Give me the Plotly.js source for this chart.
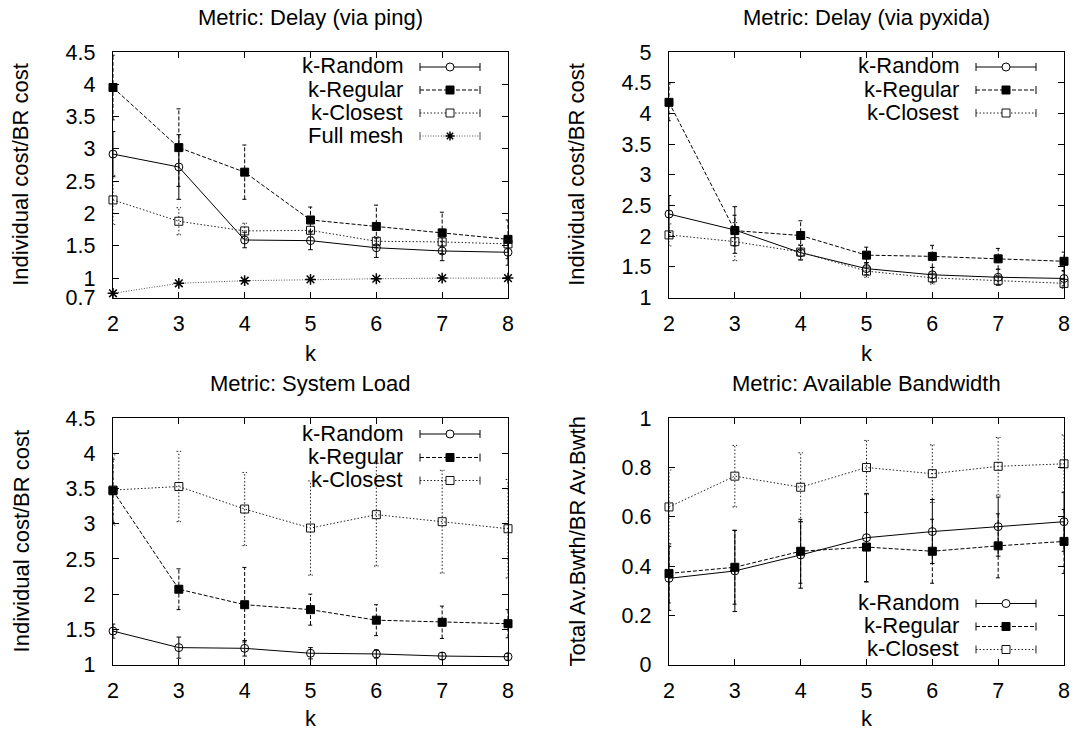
<!DOCTYPE html>
<html>
<head>
<meta charset="utf-8">
<script src="https://cdn.plot.ly/plotly-3.0.1.min.js"></script>
<style>html,body{margin:0;padding:0;background:#fff;}#chart{width:1074px;height:731px;}</style>
</head>
<body>
<div id="chart"></div>
<script>
// ---------- data ----------
const K = [2, 3, 4, 5, 6, 7, 8];
const seriesNames = ['k-Random', 'k-Regular', 'k-Closest', 'Full mesh'];
const panelTitles = ['Metric: Delay (via ping)', 'Metric: Delay (via pyxida)', 'Metric: System Load', 'Metric: Available Bandwidth'];
const yTitles = ['Individual cost/BR cost', 'Individual cost/BR cost', 'Individual cost/BR cost', 'Total Av.Bwth/BR Av.Bwth'];

// Delay via ping
const pingRandom     = [2.92, 2.72, 1.59, 1.58, 1.47, 1.42, 1.40];
const pingRandomErr  = [0.35, 0.50, 0.12, 0.14, 0.15, 0.15, 0.20];
const pingRegular    = [3.95, 3.02, 2.64, 1.90, 1.80, 1.70, 1.60];
const pingRegularErr = [0.50, 0.60, 0.42, 0.20, 0.33, 0.32, 0.30];
const pingClosest    = [2.21, 1.88, 1.73, 1.74, 1.57, 1.56, 1.53];
const pingClosestErr = [0.38, 0.21, 0.12, 0.10, 0.07, 0.07, 0.07];
const pingFull       = [0.765, 0.92, 0.96, 0.98, 0.99, 1.00, 1.00];
const pingFullErr    = [0.01, 0.01, 0.01, 0.01, 0.01, 0.01, 0.01];

// Delay via pyxida
const pyxRandom     = [2.36, 2.10, 1.73, 1.47, 1.37, 1.33, 1.31];
const pyxRandomErr  = [0.30, 0.38, 0.12, 0.10, 0.12, 0.13, 0.12];
const pyxRegular    = [4.18, 2.09, 2.01, 1.69, 1.67, 1.63, 1.59];
const pyxRegularErr = [0.30, 0.25, 0.24, 0.13, 0.18, 0.17, 0.15];
const pyxClosest    = [2.02, 1.91, 1.74, 1.43, 1.32, 1.28, 1.23];
const pyxClosestErr = [0.18, 0.31, 0.12, 0.10, 0.10, 0.08, 0.08];

// System load
const loadRandom     = [1.475, 1.24, 1.23, 1.16, 1.15, 1.12, 1.11];
const loadRandomErr  = [0.10, 0.15, 0.11, 0.08, 0.06, 0.05, 0.05];
const loadRegular    = [3.47, 2.07, 1.85, 1.78, 1.63, 1.60, 1.58];
const loadRegularErr = [0.45, 0.29, 0.53, 0.22, 0.22, 0.23, 0.20];
const loadClosest    = [3.48, 3.53, 3.21, 2.94, 3.13, 3.03, 2.93];
const loadClosestErr = [0.50, 0.50, 0.52, 0.67, 0.73, 0.73, 0.70];

// Available bandwidth
const bwRandom     = [0.35, 0.38, 0.445, 0.515, 0.54, 0.56, 0.58];
const bwRandomErr  = [0.13, 0.165, 0.135, 0.18, 0.13, 0.12, 0.12];
const bwRegular    = [0.37, 0.395, 0.46, 0.477, 0.46, 0.482, 0.50];
const bwRegularErr = [0.12, 0.15, 0.13, 0.14, 0.13, 0.13, 0.13];
const bwClosest    = [0.64, 0.765, 0.72, 0.80, 0.775, 0.805, 0.815];
const bwClosestErr = [0.15, 0.125, 0.14, 0.11, 0.117, 0.117, 0.117];

const yTicks1 = [0.7, 1, 1.5, 2, 2.5, 3, 3.5, 4, 4.5];
const yTicks2 = [1, 1.5, 2, 2.5, 3, 3.5, 4, 4.5, 5];
const yTicks3 = [1, 1.5, 2, 2.5, 3, 3.5, 4, 4.5];
const yTicks4 = [0, 0.2, 0.4, 0.6, 0.8, 1];

// ---------- styles ----------
const FONT = '"Liberation Sans", Arial, Helvetica, sans-serif';
const FS = 22;      // titles, legend, axis titles
const TFS = 21.5;   // tick labels
const W = 1074, H = 731;
const styles = [
  {dash: 'solid',      color: '#000', mcolor: '#000', symbol: 'circle-open', size: 8, mlw: 1},
  {dash: '4px,2px',    color: '#000', mcolor: '#000', symbol: 'square',      size: 8, mlw: 1},
  {dash: '1.5px,2px',  color: '#222', mcolor: '#111', symbol: 'square-open', size: 8, mlw: 1},
  {dash: '1px,1.6px',  color: '#555', mcolor: '#000', symbol: 'asterisk-open', size: 9, mlw: 1.5}
];

const panels = [
  {x: [113, 508], y: [52, 297.5],  range: [0.7, 4.5], ticks: yTicks1,
   series: [[pingRandom, pingRandomErr], [pingRegular, pingRegularErr], [pingClosest, pingClosestErr], [pingFull, pingFullErr]],
   legendRows: [67, 90, 113, 136]},
  {x: [669, 1064], y: [52, 297.5], range: [1, 5], ticks: yTicks2,
   series: [[pyxRandom, pyxRandomErr], [pyxRegular, pyxRegularErr], [pyxClosest, pyxClosestErr]],
   legendRows: [67, 90, 113]},
  {x: [113, 508], y: [418.3, 664.5], range: [1, 4.5], ticks: yTicks3,
   series: [[loadRandom, loadRandomErr], [loadRegular, loadRegularErr], [loadClosest, loadClosestErr]],
   legendRows: [434, 457.5, 480.5]},
  {x: [669, 1064], y: [418.3, 664.5], range: [0, 1], ticks: yTicks4,
   series: [[bwRandom, bwRandomErr], [bwRegular, bwRegularErr], [bwClosest, bwClosestErr]],
   legendRows: [603.5, 626.5, 649.5]}
];

function pxX(x) { return x / W; }
function pxY(y) { return 1 - y / H; }

const traces = [];
const shapes = [];
const annotations = [];
const layout = {
  width: W, height: H,
  margin: {l: 0, r: 0, t: 0, b: 0},
  paper_bgcolor: '#fff', plot_bgcolor: '#fff',
  showlegend: false,
  font: {family: FONT, size: FS, color: '#000'}
};

const CAP = 0.035; // half-width of error bar caps in k units

panels.forEach((p, pi) => {
  const n = pi + 1;
  const xa = 'x' + (n === 1 ? '' : n), ya = 'y' + (n === 1 ? '' : n);
  const xk = 'xaxis' + (n === 1 ? '' : n), yk = 'yaxis' + (n === 1 ? '' : n);
  layout[xk] = {
    domain: [pxX(p.x[0]), pxX(p.x[1])], anchor: ya,
    range: [2, 8], tickvals: K, ticktext: K.map(String),
    ticks: 'inside', ticklen: 6, tickwidth: 1, tickcolor: '#000',
    mirror: 'allticks', showline: true, linecolor: '#000', linewidth: 1.3,
    showgrid: false, zeroline: false, ticklabelstandoff: 6,
    tickfont: {family: FONT, size: TFS, color: '#000'}, fixedrange: true
  };
  layout[yk] = {
    domain: [pxY(p.y[1]), pxY(p.y[0])], anchor: xa,
    range: p.range, tickvals: p.ticks, ticktext: p.ticks.map(String),
    ticks: 'inside', ticklen: 6, tickwidth: 1, tickcolor: '#000',
    mirror: 'allticks', showline: true, linecolor: '#000', linewidth: 1.3,
    showgrid: false, zeroline: false, ticklabelstandoff: 12,
    tickfont: {family: FONT, size: TFS, color: '#000'}, fixedrange: true
  };

  p.series.forEach((s, si) => {
    const st = styles[si];
    const vals = s[0], errs = s[1];
    const ex = [], ey = [];
    K.forEach((k, i) => {
      const lo = vals[i] - errs[i], hi = vals[i] + errs[i];
      ex.push(k - CAP, k + CAP, null, k, k, null, k - CAP, k + CAP, null);
      ey.push(lo, lo, null, lo, hi, null, hi, hi, null);
    });
    traces.push({
      x: ex, y: ey, xaxis: xa, yaxis: ya, mode: 'lines', hoverinfo: 'skip',
      line: {color: st.color, width: 1, dash: st.dash}, cliponaxis: false, showlegend: false
    });
    traces.push({
      x: K, y: vals, xaxis: xa, yaxis: ya, mode: 'lines+markers', name: seriesNames[si],
      line: {color: st.color, width: 1, dash: st.dash},
      marker: {symbol: st.symbol, size: st.size, color: st.mcolor, line: {color: st.mcolor, width: st.mlw}},
      cliponaxis: false, showlegend: false
    });

    // custom gnuplot-style legend entry: text right-aligned, sample on its right
    const ry = p.legendRows[si];
    const right = p.x[1];
    annotations.push({
      xref: 'paper', yref: 'paper', x: pxX(right - 103), y: pxY(ry - 1),
      xanchor: 'right', yanchor: 'middle', showarrow: false, text: seriesNames[si],
      font: {family: FONT, size: FS, color: '#000'}
    });
    const lx0 = right - 88, lx1 = right - 28, mx = right - 58;
    shapes.push({type: 'line', xref: 'paper', yref: 'paper', x0: pxX(lx0), x1: pxX(lx1), y0: pxY(ry), y1: pxY(ry),
      line: {color: st.color, width: 1, dash: st.dash}});
    [lx0, lx1].forEach(cx => shapes.push({type: 'line', xref: 'paper', yref: 'paper',
      x0: pxX(cx), x1: pxX(cx), y0: pxY(ry - 4), y1: pxY(ry + 4), line: {color: st.color, width: 1}}));
    const r = 4;
    if (si === 0) {
      shapes.push({type: 'circle', xref: 'paper', yref: 'paper', x0: pxX(mx - r), x1: pxX(mx + r),
        y0: pxY(ry + r), y1: pxY(ry - r), line: {color: '#000', width: 1}, fillcolor: '#fff'});
    } else if (si === 1) {
      shapes.push({type: 'rect', xref: 'paper', yref: 'paper', x0: pxX(mx - r), x1: pxX(mx + r),
        y0: pxY(ry + r), y1: pxY(ry - r), line: {color: '#000', width: 1}, fillcolor: '#000'});
    } else if (si === 2) {
      shapes.push({type: 'rect', xref: 'paper', yref: 'paper', x0: pxX(mx - r), x1: pxX(mx + r),
        y0: pxY(ry + r), y1: pxY(ry - r), line: {color: '#111', width: 1}, fillcolor: '#fff'});
    } else {
      const a = 4.5, b = 3.2;
      const path = 'M' + pxX(mx - a) + ',' + pxY(ry) + 'L' + pxX(mx + a) + ',' + pxY(ry) +
        'M' + pxX(mx) + ',' + pxY(ry - a) + 'L' + pxX(mx) + ',' + pxY(ry + a) +
        'M' + pxX(mx - b) + ',' + pxY(ry - b) + 'L' + pxX(mx + b) + ',' + pxY(ry + b) +
        'M' + pxX(mx - b) + ',' + pxY(ry + b) + 'L' + pxX(mx + b) + ',' + pxY(ry - b);
      shapes.push({type: 'path', xref: 'paper', yref: 'paper', path: path, line: {color: '#000', width: 1.5}});
    }
  });

  // panel title, axis titles
  const cx = (p.x[0] + p.x[1]) / 2, cy = (p.y[0] + p.y[1]) / 2;
  annotations.push({xref: 'paper', yref: 'paper', x: pxX(cx), y: pxY(p.y[0] - 35), xanchor: 'center', yanchor: 'middle',
    showarrow: false, text: panelTitles[pi], font: {family: FONT, size: FS, color: '#000'}});
  annotations.push({xref: 'paper', yref: 'paper', x: pxX(cx), y: pxY(Math.min(p.y[1] + 56, H - 13)), xanchor: 'center', yanchor: 'middle',
    showarrow: false, text: 'k', font: {family: FONT, size: FS, color: '#000'}});
  annotations.push({xref: 'paper', yref: 'paper', x: pxX(p.x[0] - 92), y: pxY(cy), xanchor: 'center', yanchor: 'middle',
    showarrow: false, textangle: -90, text: yTitles[pi], font: {family: FONT, size: FS, color: '#000'}});
});

layout.shapes = shapes;
layout.annotations = annotations;

Plotly.newPlot('chart', traces, layout, {staticPlot: true, displayModeBar: false});
</script>
</body>
</html>
